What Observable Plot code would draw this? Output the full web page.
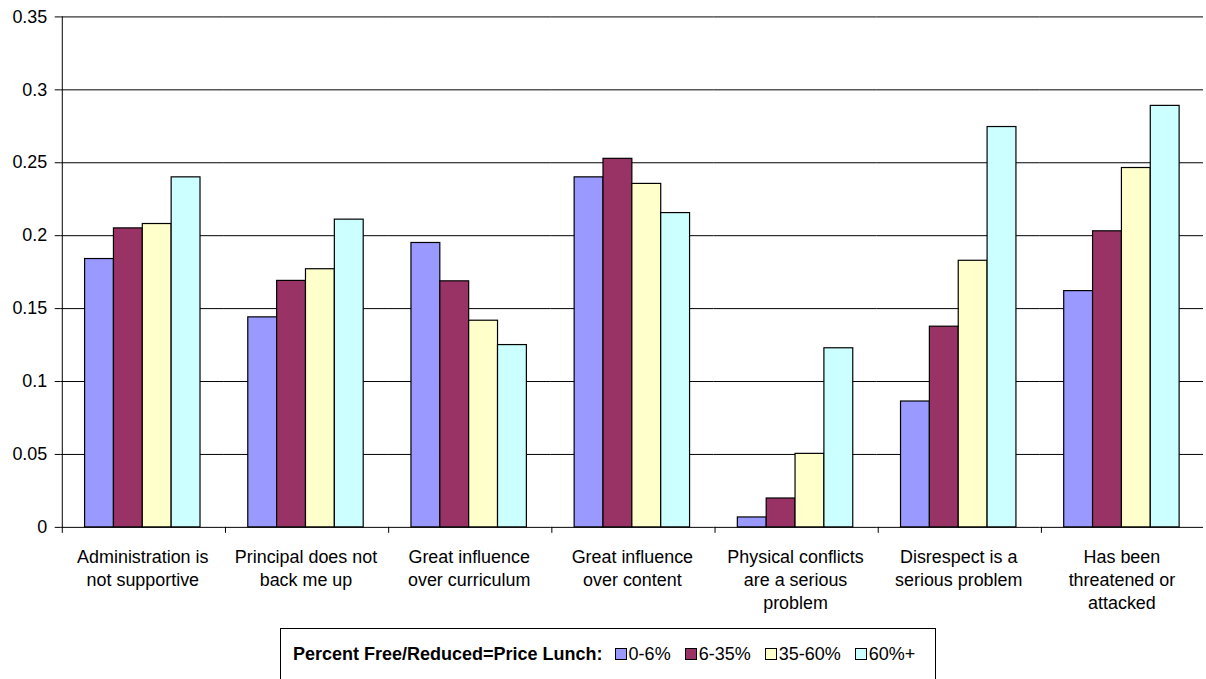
<!DOCTYPE html>
<html>
<head>
<meta charset="utf-8">
<script src="https://cdn.jsdelivr.net/npm/d3@7"></script>
<script src="https://cdn.jsdelivr.net/npm/@observablehq/plot@0.6"></script>
<style>
  html, body { margin: 0; padding: 0; background: #fff; overflow: hidden; width: 1206px; height: 679px; }
  #wrap { position: relative; width: 1206px; height: 679px; overflow: hidden; font-family: "Liberation Sans", Arial, sans-serif; color: #000; }
  #chart { position: absolute; left: 0; top: 0; }
  #legend { position: absolute; left: 280px; top: 628px; width: 656px; height: 70px; border: 1px solid #000; box-sizing: border-box;
            display: flex; align-items: flex-start; padding: 15px 0 0 12px; font-size: 18px; line-height: 20px; white-space: nowrap; }
  #legend .title { font-weight: bold; margin-right: 12px; }
  #legend .item { display: flex; align-items: center; margin-right: 14px; }
  #legend .sw { width: 12px; height: 12px; border: 1px solid #000; box-sizing: border-box; margin-right: 2px; }
</style>
</head>
<body>
<div id="wrap">
  <div id="chart"></div>
  <div id="legend"></div>
</div>
<script>
// ---- data ----
const categories = [
  "Administration is not supportive",
  "Principal does not back me up",
  "Great influence over curriculum",
  "Great influence over content",
  "Physical conflicts are a serious problem",
  "Disrespect is a serious problem",
  "Has been threatened or attacked"
];
const tickLabels = [
  "Administration is\nnot supportive",
  "Principal does not\nback me up",
  "Great influence\nover curriculum",
  "Great influence\nover content",
  "Physical conflicts\nare a serious\nproblem",
  "Disrespect is a\nserious problem",
  "Has been\nthreatened or\nattacked"
];
const seriesNames = ["0-6%", "6-35%", "35-60%", "60%+"];
const values0to6 =   [0.184, 0.144, 0.195, 0.240, 0.0068, 0.0863, 0.162];
const values6to35 =  [0.205, 0.169, 0.1687, 0.2527, 0.0198, 0.1376, 0.203];
const values35to60 = [0.208, 0.177, 0.1417, 0.2355, 0.0504, 0.1828, 0.2464];
const values60plus = [0.240, 0.211, 0.125, 0.2155, 0.1228, 0.2745, 0.289];
const seriesColors = ["#9999FF", "#993366", "#FFFFCC", "#CCFFFF"];
const yTicks = [0, 0.05, 0.1, 0.15, 0.2, 0.25, 0.3, 0.35];
const legendTitle = "Percent Free/Reduced=Price Lunch:";

// ---- table for the library ----
const seriesValues = [values0to6, values6to35, values35to60, values60plus];
const data = [];
categories.forEach((c, i) => {
  seriesNames.forEach((s, j) => data.push({category: c, series: s, value: seriesValues[j][i]}));
});

const font = '"Liberation Sans", Arial, sans-serif';

const chart = Plot.plot({
  width: 1212,
  height: 630,
  marginLeft: 59,
  marginRight: 1,
  marginTop: 16.5,
  marginBottom: 100.5,
  style: {fontFamily: font, fontSize: "18px", color: "#000", background: "transparent", overflow: "visible"},
  fx: {domain: categories, paddingInner: 0, paddingOuter: 0, label: null},
  x: {domain: seriesNames, paddingInner: 0, paddingOuter: 0.7525, axis: null},
  y: {domain: [0, 0.35], axis: null},
  color: {domain: seriesNames, range: seriesColors},
  marks: [
    Plot.ruleY(yTicks, {stroke: "#000", strokeWidth: 1}),
    Plot.barY(data, {fx: "category", x: "series", y: "value", fill: "series", stroke: "#000", strokeWidth: 1.2, inset: 0}),
    Plot.ruleX([categories[0]], {fx: d => d, x: () => seriesNames[0], y1: 0.35, y2: 0, insetBottom: -6, dx: -37.4, stroke: "#000"}),
    Plot.ruleX(categories.slice(1), {fx: d => d, x: () => seriesNames[0], y1: 0, y2: 0, insetBottom: -6, dx: -37.4, stroke: "#000"}),
    Plot.axisY({anchor: "left", ticks: yTicks, tickFormat: d => String(d), tickSize: 6, tickPadding: 8, fontSize: 18, label: null, stroke: "#000"}),
    Plot.axisFx({anchor: "bottom", tickSize: 0, tickPadding: 19, fontSize: 18, lineHeight: 1.3, label: null,
                 tickFormat: d => tickLabels[categories.indexOf(d)]})
  ]
});
document.getElementById("chart").appendChild(chart);

// ---- legend ----
const legend = document.getElementById("legend");
const t = document.createElement("span");
t.className = "title";
t.textContent = legendTitle;
legend.appendChild(t);
seriesNames.forEach((s, i) => {
  const it = document.createElement("span");
  it.className = "item";
  const sw = document.createElement("span");
  sw.className = "sw";
  sw.style.background = seriesColors[i];
  it.appendChild(sw);
  const lab = document.createElement("span");
  lab.textContent = s;
  it.appendChild(lab);
  legend.appendChild(it);
});
</script>
</body>
</html>
